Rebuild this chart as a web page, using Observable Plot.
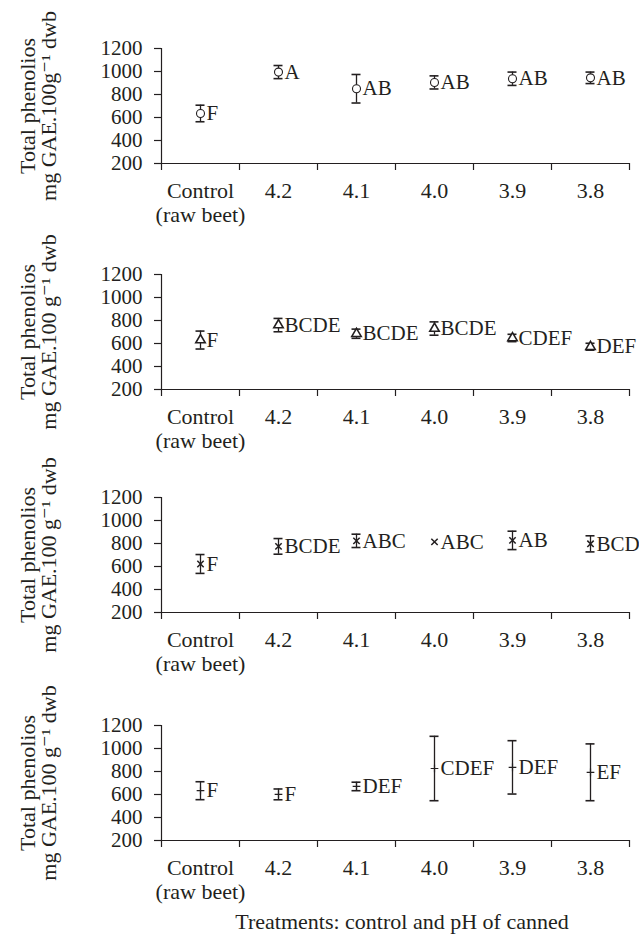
<!DOCTYPE html>
<html>
<head>
<meta charset="utf-8">
<script src="https://cdn.jsdelivr.net/npm/d3@7"></script>
<script src="https://cdn.jsdelivr.net/npm/@observablehq/plot@0.6"></script>
<style>
  html, body { margin: 0; padding: 0; background: #fff; }
  #root { position: relative; width: 639px; height: 936px; overflow: hidden;
          font-family: 'Liberation Serif', 'Tinos', 'Times New Roman', 'DejaVu Serif', serif; color: #231f20; }
  .panel { position: absolute; left: 0; }
  .panel svg { overflow: visible; }
  #xtitle { position: absolute; top: 911px; left: 402px; transform: translateX(-50%);
            white-space: nowrap; font-size: 22px; line-height: 22px; }
</style>
</head>
<body>
<div id="root"></div>
<script>
// ---------- data ----------
const categories = ["Control\n(raw beet)", "4.2", "4.1", "4.0", "3.9", "3.8"];
const yTicks = [200, 400, 600, 800, 1000, 1200];
const yLabelTop = "Total phenolios";
const yLabelUnits = ["mg GAE.100g\u207B\u00B9 dwb", "mg GAE.100 g\u207B\u00B9 dwb", "mg GAE.100 g\u207B\u00B9 dwb", "mg GAE.100 g\u207B\u00B9 dwb"];
const xTitle = "Treatments: control and pH of canned";

const meansP1 = [635, 995, 850, 905, 937, 945];
const sdP1    = [72, 57, 124, 57, 58, 50];
const lettersP1 = ["F", "A", "AB", "AB", "AB", "AB"];

const meansP2 = [630, 760, 685, 730, 648, 572];
const sdP2    = [78, 58, 40, 58, 32, 30];
const lettersP2 = ["F", "BCDE", "BCDE", "BCDE", "CDEF", "DEF"];

const meansP3 = [622, 775, 823, 814, 827, 797];
const sdP3    = [82, 68, 58, 0, 80, 70];
const lettersP3 = ["F", "BCDE", "ABC", "ABC", "AB", "BCD"];

const meansP4 = [633, 601, 670, 826, 836, 793];
const sdP4    = [78, 47, 37, 280, 232, 247];
const lettersP4 = ["F", "F", "DEF", "CDEF", "DEF", "EF"];

const panelMeans = [meansP1, meansP2, meansP3, meansP4];
const panelSds = [sdP1, sdP2, sdP3, sdP4];
const panelLetters = [lettersP1, lettersP2, lettersP3, lettersP4];

// ---------- styling / layout ----------
const ink = "#231f20";
const serif = "'Liberation Serif', 'Tinos', 'Times New Roman', 'DejaVu Serif', serif";
const panelTops = [26, 252, 475, 703];
const symbols = ["circle", "triangle", "times", "plus"];
const symbolR = [4, 3.5, 3, 2.6];
const symbolSW = [1.1, 1.6, 1.5, 1.2];
const W = 639, ML = 161, MR = 10, MT = 22, MB = 89, H = 226;
const unitPx = (W - ML - MR) / categories.length;
const capHalf = 4.5 / unitPx;

const root = document.getElementById("root");

panelMeans.forEach((means, p) => {
  const rows = categories.map((c, i) => ({
    x: i + 0.5, mean: means[i], sd: panelSds[p][i], letter: panelLetters[p][i]
  }));
  const bars = rows.filter(d => d.sd > 0);
  const plot = Plot.plot({
    width: W, height: H,
    marginLeft: ML, marginRight: MR, marginTop: MT, marginBottom: MB,
    style: { fontFamily: serif, fontSize: "21px", color: ink, background: "transparent", overflow: "visible" },
    x: { domain: [0, categories.length], axis: null },
    y: { domain: [200, 1200], axis: null },
    marks: [
      Plot.ruleY([200], { stroke: ink, strokeWidth: 1.2 }),
      Plot.ruleX([0], { stroke: ink, strokeWidth: 1.2 }),
      Plot.axisY({ ticks: yTicks, tickSize: 7, tickPadding: 12, tickFormat: d => String(d), label: null, stroke: ink, strokeWidth: 1.2 }),
      Plot.axisX({ ticks: d3.range(categories.length + 1), tickSize: 7, tickFormat: () => "", label: null, stroke: ink, strokeWidth: 1.2 }),
      Plot.axisX({ ticks: categories.map((c, i) => i + 0.5), tickSize: 0, tickPadding: 17, fontSize: 22,
                   tickFormat: d => categories[Math.floor(d)], lineHeight: 1.1, label: null }),
      Plot.ruleX(bars, { x: "x", y1: d => d.mean - d.sd, y2: d => d.mean + d.sd, stroke: ink, strokeWidth: 1.3 }),
      Plot.ruleY(bars, { y: d => d.mean + d.sd, x1: d => d.x - capHalf, x2: d => d.x + capHalf, stroke: ink, strokeWidth: 1.6 }),
      Plot.ruleY(bars, { y: d => d.mean - d.sd, x1: d => d.x - capHalf, x2: d => d.x + capHalf, stroke: ink, strokeWidth: 1.6 }),
      Plot.dot(rows, { x: "x", y: "mean", symbol: () => symbols[p], r: symbolR[p], stroke: ink, strokeWidth: symbolSW[p],
                       fill: (p < 2 ? "white" : "none") }),
      Plot.text(rows, { x: "x", y: "mean", text: "letter", dx: 6, textAnchor: "start", fill: ink, fontSize: 21 }),
      Plot.text([yLabelTop + "\n" + yLabelUnits[p]], { text: d => d, frameAnchor: "left", textAnchor: "middle", lineAnchor: "middle",
                   rotate: -90, dx: -123, lineHeight: 0.97, fontSize: 22, fill: ink })
    ]
  });
  const div = document.createElement("div");
  div.className = "panel";
  div.style.top = panelTops[p] + "px";
  div.appendChild(plot);
  root.appendChild(div);
});

const t = document.createElement("div");
t.id = "xtitle";
t.textContent = xTitle;
root.appendChild(t);
</script>
</body>
</html>
